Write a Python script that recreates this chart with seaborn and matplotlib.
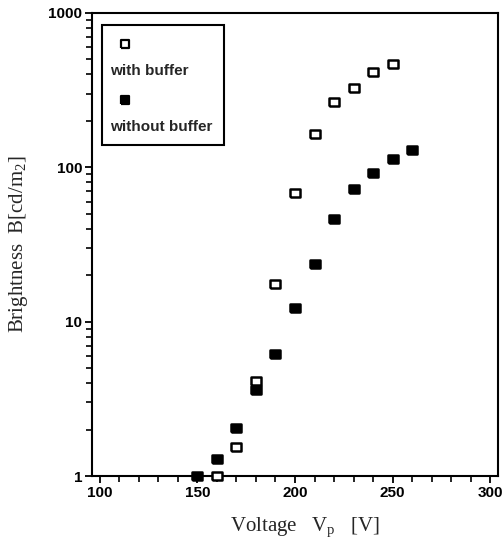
import matplotlib
matplotlib.use("Agg")
import matplotlib.pyplot as plt
from matplotlib.patches import Rectangle
from matplotlib.ticker import FixedLocator, FixedFormatter, LogLocator, NullFormatter, MultipleLocator
import seaborn as sns
import pandas as pd

# Brightness vs. drive voltage for two panel structures
voltage_with = [160, 170, 180, 190, 200, 210, 220, 230, 240, 250]
brightness_with = [1.0, 1.55, 4.1, 17.5, 68, 165, 265, 325, 415, 465]

voltage_without = [150, 160, 170, 180, 190, 200, 210, 220, 230, 240, 250, 260]
brightness_without = [1.0, 1.28, 2.05, 3.6, 6.2, 12.2, 23.5, 46, 72, 92, 113, 130]

series_labels = ["with buffer", "without buffer"]
x_ticks = [100, 150, 200, 250, 300]
y_ticks = [1, 10, 100, 1000]
y_tick_labels = ["1", "10", "100", "1000"]

df_with = pd.DataFrame({"V": voltage_with, "B": brightness_with})
df_without = pd.DataFrame({"V": voltage_without, "B": brightness_without})

sns.set_style("ticks")
plt.rcParams["font.family"] = ["Liberation Sans", "DejaVu Sans"]
plt.rcParams["mathtext.fontset"] = "custom"
plt.rcParams["mathtext.rm"] = "Liberation Serif"
plt.rcParams["mathtext.it"] = "Liberation Serif"

fig = plt.figure(figsize=(5.04, 5.44), dpi=100)
ax = fig.add_axes([92 / 504, 68 / 544, 406 / 504, 463 / 544])

# slightly wide rectangular marker
rect_marker = [(-1.25, -1), (1.25, -1), (1.25, 1), (-1.25, 1), (-1.25, -1)]

sns.scatterplot(data=df_with, x="V", y="B", ax=ax, marker=rect_marker, s=52,
                facecolor="white", edgecolor="black", linewidth=1.8, clip_on=False, zorder=3)
sns.scatterplot(data=df_without, x="V", y="B", ax=ax, marker=rect_marker, s=52,
                color="black", edgecolor="black", linewidth=1.8, clip_on=False, zorder=3)

ax.set_yscale("log")
ax.set_xlim(96, 304)
ax.set_ylim(1, 1000)

ax.xaxis.set_major_locator(FixedLocator(x_ticks))
ax.xaxis.set_minor_locator(MultipleLocator(10))
ax.yaxis.set_major_locator(FixedLocator(y_ticks))
ax.yaxis.set_major_formatter(FixedFormatter(y_tick_labels))
ax.yaxis.set_minor_locator(LogLocator(base=10, subs=range(2, 10)))
ax.yaxis.set_minor_formatter(NullFormatter())

for sp in ax.spines.values():
    sp.set_visible(True)
    sp.set_linewidth(1.5)
    sp.set_color("black")

ax.tick_params(which="major", direction="out", length=5, width=1.3, colors="black",
               labelsize=11, pad=2)
ax.tick_params(which="minor", direction="out", length=4, width=1.2, colors="black")
for lab in ax.get_xticklabels() + ax.get_yticklabels():
    lab.set_fontweight("bold")

ax.set_xlabel(r"Voltage   V$_{\mathrm{p}}$   [V]", family="Liberation Serif", fontsize=15)
ax.xaxis.set_label_coords(0.525, -0.085)
ax.set_ylabel(r"Brightness  B[cd/m$_{2}$]", family="Liberation Serif", fontsize=15)
ax.yaxis.set_label_coords(-0.152, 0.5)

# legend box with marker above each label
ax.add_patch(Rectangle((0.025, 0.715), 0.30, 0.259, transform=ax.transAxes,
                       fill=False, edgecolor="black", linewidth=1.5, zorder=4))
ax.scatter([0.081], [0.933], transform=ax.transAxes, marker=rect_marker, s=40,
           facecolor="white", edgecolor="black", linewidth=1.6, zorder=5)
ax.text(0.044, 0.875, series_labels[0], transform=ax.transAxes, fontsize=11,
        fontweight="bold", va="center", ha="left")
ax.scatter([0.081], [0.812], transform=ax.transAxes, marker=rect_marker, s=40,
           color="black", linewidth=1.6, zorder=5)
ax.text(0.044, 0.754, series_labels[1], transform=ax.transAxes, fontsize=11,
        fontweight="bold", va="center", ha="left")

fig.savefig("out.png", dpi=100)
